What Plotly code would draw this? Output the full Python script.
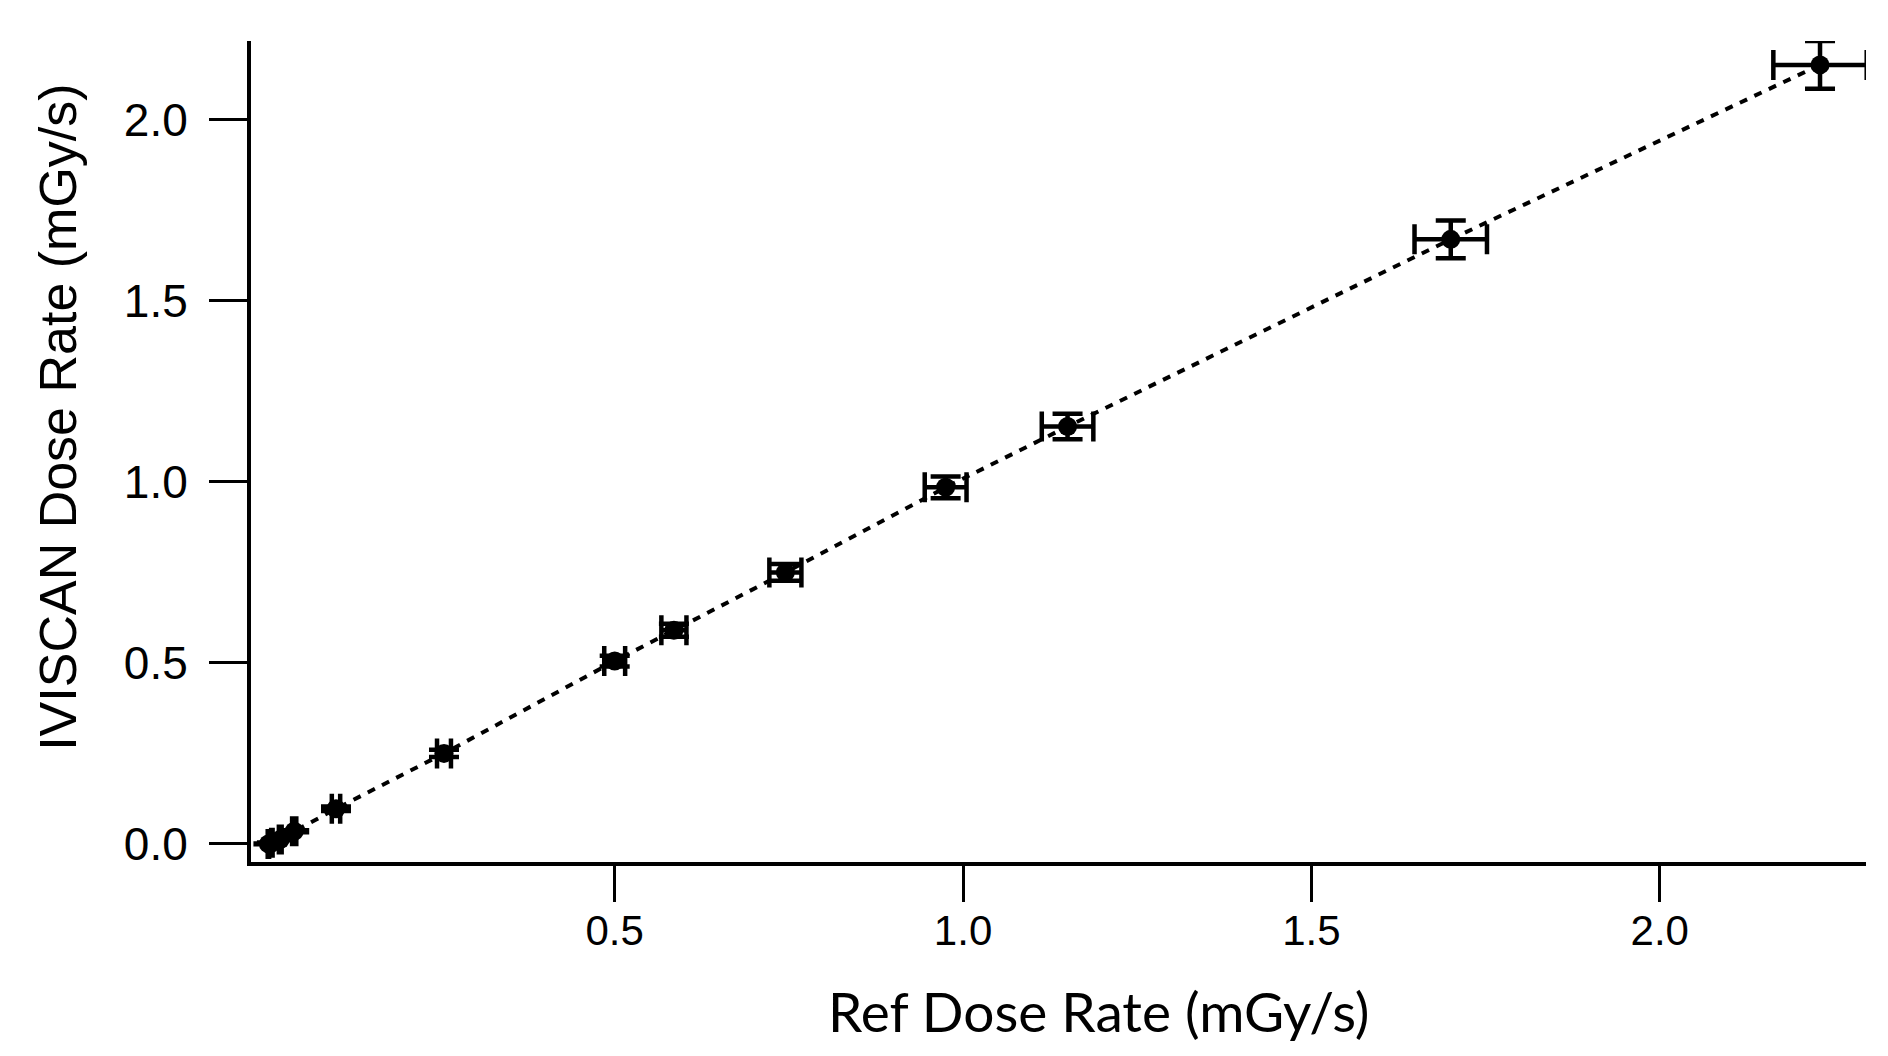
import plotly.graph_objects as go

ref_dose = [0.003, 0.008, 0.02, 0.04, 0.10, 0.255, 0.50, 0.585, 0.745, 0.975, 1.15, 1.70, 2.23]
iviscan_dose = [0.0, 0.003, 0.012, 0.035, 0.097, 0.25, 0.505, 0.59, 0.75, 0.985, 1.153, 1.67, 2.152]
ref_err = [0.001, 0.001, 0.002, 0.003, 0.006, 0.01, 0.015, 0.018, 0.023, 0.03, 0.037, 0.052, 0.067]
iviscan_err = [0.001, 0.001, 0.002, 0.003, 0.006, 0.01, 0.015, 0.018, 0.023, 0.03, 0.035, 0.052, 0.066]

x_ticks = [0.5, 1.0, 1.5, 2.0]
x_ticklabels = ["0.5", "1.0", "1.5", "2.0"]
y_ticks = [0.0, 0.5, 1.0, 1.5, 2.0]
y_ticklabels = ["0.0", "0.5", "1.0", "1.5", "2.0"]
x_title = "Ref Dose Rate (mGy/s)"
y_title = "IVISCAN Dose Rate (mGy/s)"

fig = go.Figure()
fig.add_trace(go.Scatter(
    x=ref_dose, y=iviscan_dose,
    mode="lines+markers",
    line=dict(color="black", width=4, dash="8px,8px"),
    marker=dict(color="black", size=19, symbol="circle"),
    error_x=dict(type="data", array=ref_err, visible=True, color="black", thickness=4.5, width=15),
    error_y=dict(type="data", array=iviscan_err, visible=True, color="black", thickness=4.5, width=15),
    showlegend=False,
))

sans = "Liberation Sans, Arial, sans-serif"
fig.update_layout(
    template="none",
    width=1888, height=1056,
    margin=dict(l=243, r=30, t=33, b=202),
    plot_bgcolor="white", paper_bgcolor="white",
    xaxis=dict(
        automargin=False,
        range=[-0.022, 2.296], tickvals=x_ticks, ticktext=x_ticklabels,
        showgrid=False, zeroline=False, showline=True, linecolor="black", linewidth=4,
        ticks="outside", ticklen=36, tickwidth=3, tickcolor="black",
        tickfont=dict(family=sans, size=42, color="black"), ticklabelstandoff=-7,
    ),
    yaxis=dict(
        automargin=False,
        range=[-0.05, 2.218], tickvals=y_ticks, ticktext=y_ticklabels,
        showgrid=False, zeroline=False, showline=True, linecolor="black", linewidth=4,
        ticks="outside", ticklen=38, tickwidth=3, tickcolor="black",
        tickfont=dict(family=sans, size=46, color="black"), ticklabelstandoff=12,
    ),
    annotations=[
        dict(text=x_title, xref="paper", yref="paper", x=0.525, y=-0.181,
             xanchor="center", yanchor="middle", showarrow=False,
             font=dict(family="Lato, sans-serif", size=55, color="black")),
        dict(text=y_title, xref="paper", yref="paper", x=-0.1195, y=0.541,
             xanchor="center", yanchor="middle", showarrow=False, textangle=-90,
             font=dict(family=sans, size=52, color="black")),
    ],
)
fig.write_html("out.html")
